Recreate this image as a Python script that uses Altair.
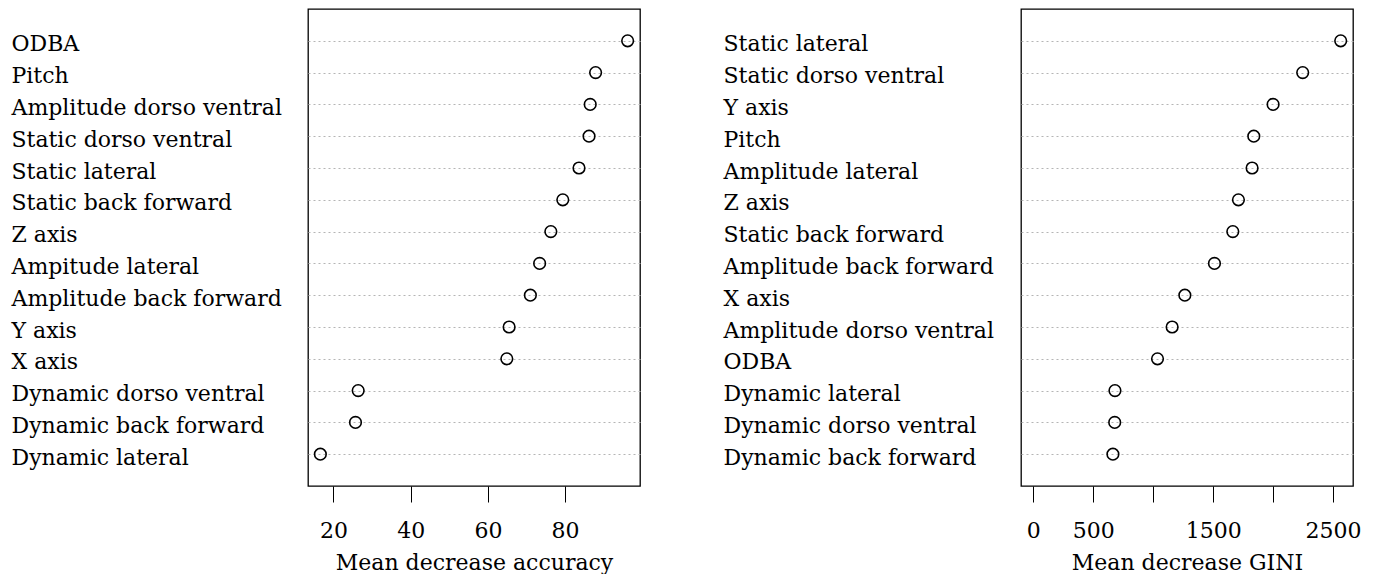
import altair as alt
import pandas as pd

FONT = "DejaVu Serif"

acc_vars = ["ODBA", "Pitch", "Amplitude dorso ventral", "Static dorso ventral",
            "Static lateral", "Static back forward", "Z axis", "Ampitude lateral",
            "Amplitude back forward", "Y axis", "X axis", "Dynamic dorso ventral",
            "Dynamic back forward", "Dynamic lateral"]
acc_vals = [96.2, 87.9, 86.5, 86.2, 83.6, 79.4, 76.3, 73.4, 71.0, 65.5, 64.9, 26.4, 25.7, 16.6]
acc_ticks = [20, 40, 60, 80]

gini_vars = ["Static lateral", "Static dorso ventral", "Y axis", "Pitch",
             "Amplitude lateral", "Z axis", "Static back forward", "Amplitude back forward",
             "X axis", "Amplitude dorso ventral", "ODBA", "Dynamic lateral",
             "Dynamic dorso ventral", "Dynamic back forward"]
gini_vals = [2564, 2247, 2000, 1839, 1825, 1711, 1664, 1511, 1264, 1158, 1036, 681, 679, 664]
gini_ticks = [0, 500, 1000, 1500, 2000, 2500]
gini_shown = [0, 500, 1500, 2500]


def panel(vars_, vals, domain, ticks, title, label_expr, label_pad):
    df = pd.DataFrame({"var": vars_, "val": vals})
    return alt.Chart(df).mark_point(
        filled=False, size=135, strokeWidth=1.6, color="black", opacity=1
    ).encode(
        x=alt.X("val:Q",
                scale=alt.Scale(domain=domain, nice=False, zero=False),
                axis=alt.Axis(values=ticks, title=title, format="d", grid=False,
                              domain=False, ticks=True, tickSize=16, tickColor="black",
                              tickWidth=1, labelPadding=18, labelFontSize=22,
                              titleFontSize=22, labelFont=FONT, titleFont=FONT,
                              labelColor="black", titleColor="black",
                              titleFontWeight="normal", titlePadding=11,
                              labelOverlap=False, labelFlush=False,
                              labelExpr=label_expr)),
        y=alt.Y("var:N", sort=vars_,
                scale=alt.Scale(type="point", padding=1),
                axis=alt.Axis(title=None, labelAlign="left", labelPadding=label_pad,
                              ticks=False, tickSize=0, domain=False, grid=True,
                              gridDash=[2, 3], gridColor="#b5b5b5", gridWidth=1.2,
                              labelFontSize=22, labelFont=FONT, labelColor="black",
                              labelBaseline="middle", labelOffset=3, labelLimit=0)),
    ).properties(width=332, height=477)


left = panel(acc_vars, acc_vals, [13.4, 99.4], acc_ticks,
             "Mean decrease accuracy", "datum.label", 297)
right = panel(gini_vars, gini_vals, [-102.6, 2666.6], gini_ticks,
              "Mean decrease GINI",
              "indexof([" + ",".join(str(v) for v in gini_shown) + "], datum.value) >= 0 ? datum.label : ''",
              298)

chart = alt.hconcat(left, right, spacing=81).resolve_scale(
    x="independent", y="independent"
).configure_view(stroke="black", strokeWidth=1.3).properties(
    padding={"left": 2, "top": 0, "right": 0, "bottom": 0}
)

chart.save("out.html", embed_options={"renderer": "svg", "actions": False})
